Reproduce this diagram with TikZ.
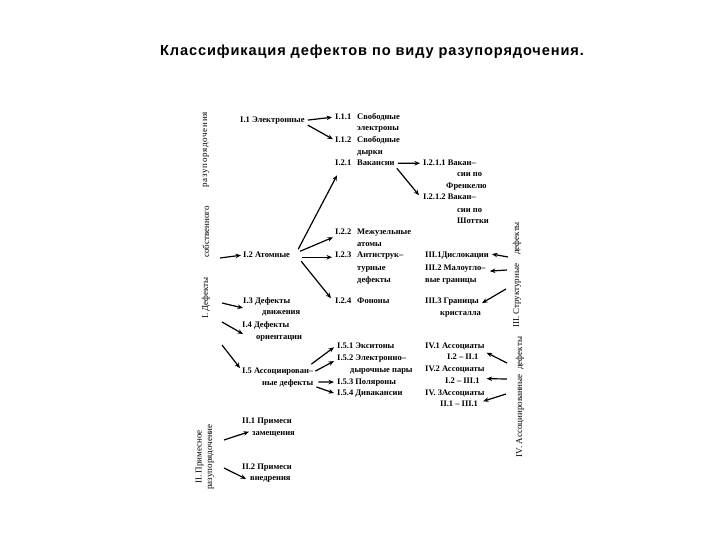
\documentclass[tikz,border=0pt]{standalone}
\usepackage{fontspec}
\setmainfont{Liberation Serif}
\newfontfamily\titlefont[LetterSpace=6]{Liberation Sans}
\usetikzlibrary{arrows.meta,calc}
\begin{document}
\begin{tikzpicture}[x=1pt,y=-1pt,
 lbl/.style={anchor=base west,inner sep=0pt,font=\fontsize{8.5}{10}\selectfont\bfseries},
 vlbl/.style={rotate=90,inner sep=0pt,font=\fontsize{9}{10.5}\selectfont,align=center},
 arr/.style={-{Stealth[length=5.5pt,width=4.5pt]},line width=1.2pt}]
\useasboundingbox[fill=white] (0,0) rectangle (720,540);
\node[font={\titlefont\bfseries\fontsize{14.6}{16}\selectfont}] (title) at (372,52) {Классификация дефектов по виду разупорядочения.};
% I
\node[lbl] (i1) at (240,123) {I.1 Электронные};
\node[lbl] (n111) at (335,120) {I.1.1};
\node[lbl] (t111a) at (357,120) {Свободные};
\node[lbl] (t111b) at (357,131) {электроны};
\node[lbl] (n112) at (335,143) {I.1.2};
\node[lbl] (t112a) at (357,143) {Свободные};
\node[lbl] (t112b) at (357,155) {дырки};
\node[lbl] (n121) at (335,166) {I.2.1};
\node[lbl] (t121) at (357,166) {Вакансии};
\node[lbl] (v1a) at (423,166) {I.2.1.1 Вакан–};
\node[lbl] (v1b) at (457,177) {сии по};
\node[lbl] (v1c) at (446,189) {Френкелю};
\node[lbl] (v2a) at (423,200) {I.2.1.2 Вакан–};
\node[lbl] (v2b) at (457,212) {сии по};
\node[lbl] (v2c) at (457,223) {Шоттки};
\node[lbl] (n122) at (335,235) {I.2.2};
\node[lbl] (t122a) at (357,235) {Межузельные};
\node[lbl] (t122b) at (357,246) {атомы};
\node[lbl] (n123) at (335,258) {I.2.3};
\node[lbl] (t123a) at (357,258) {Антиструк–};
\node[lbl] (t123b) at (357,270) {турные};
\node[lbl] (t123c) at (357,282) {дефекты};
\node[lbl] (n124) at (335,303) {I.2.4};
\node[lbl] (t124) at (357,303) {Фононы};
\node[lbl] (i2) at (243,258) {I.2 Атомные};
\node[lbl] (i3a) at (243,303) {I.3 Дефекты};
\node[lbl] (i3b) at (262,314) {движения};
\node[lbl] (i4a) at (242,327) {I.4 Дефекты};
\node[lbl] (i4b) at (256,339) {ориентации};
\node[lbl] (i5a) at (242,373) {I.5 Ассоциирован–};
\node[lbl] (i5b) at (262,385) {ные дефекты};
\node[lbl] (n151) at (337,348) {I.5.1 Экситоны};
\node[lbl] (n152) at (337,360) {I.5.2 Электронно–};
\node[lbl] (t152b) at (350,372) {дырочные пары};
\node[lbl] (n153) at (337,384) {I.5.3 Поляроны};
\node[lbl] (n154) at (337,395) {I.5.4 Дивакансии};
% II
\node[lbl] (ii1a) at (242,423) {II.1 Примеси};
\node[lbl] (ii1b) at (252,435) {замещения};
\node[lbl] (ii2a) at (242,469) {II.2 Примеси};
\node[lbl] (ii2b) at (250,480) {внедрения};
% III
\node[lbl] (iii1) at (425,258) {III.1Дислокации};
\node[lbl] (iii2a) at (425,270) {III.2 Малоугло–};
\node[lbl] (iii2b) at (425,282) {вые границы};
\node[lbl] (iii3a) at (425,303) {III.3 Границы};
\node[lbl] (iii3b) at (440,315) {кристалла};
% IV
\node[lbl] (iv1a) at (425,348) {IV.1 Ассоциаты};
\node[lbl] (iv1b) at (447,359) {I.2 – II.1};
\node[lbl] (iv2a) at (425,371) {IV.2 Ассоциаты};
\node[lbl] (iv2b) at (445,383) {I.2 – III.1};
\node[lbl] (iv3a) at (425,395) {IV. 3Ассоциаты};
\node[lbl] (iv3b) at (440,406) {II.1 – III.1};
% vertical labels
\node[vlbl] (vI1) at (206,298) {I. Дефекты};
\node[vlbl] (vI2) at (206,232) {собственного};
\node[vlbl] (vI3) at (206,150) {\addfontfeature{LetterSpace=8}разупорядочения};
\node[vlbl] (vII) at (205,457) {II. Примесное\\разупорядочение};
\node[vlbl] (vIII) at (517,275) {III. Структурные\quad дефекты};
\node[vlbl] (vIV) at (520,397) {IV. Ассоциированные\ \ дефекты};
% free ends
\coordinate (c2) at (220,258);
\coordinate (c3) at (222,303);
\coordinate (c4) at (222,322);
\coordinate (c5) at (222,345);
\coordinate (c6) at (224,440);
\coordinate (c7) at (224,468);
\coordinate (c8) at (508,257);
\coordinate (c9) at (507,270);
\coordinate (c10) at (506,289);
\coordinate (c11) at (507,363);
\coordinate (c12) at (507,379);
\coordinate (c13) at (506,394);
% arrows
\draw[arr] ($(i1.east)+(3,-1)$) -- ($(n111.west)+(-3,0)$);
\draw[arr] ($(i1.east)+(3,4)$) -- ($(n112.west)+(-2,-1)$);
\draw[arr] ($(i2.east)+(8,-6)$) -- ($(n121.south west)+(2,9)$);
\draw[arr] ($(i2.east)+(10,-4)$) -- ($(n122.south west)+(-2,2)$);
\draw[arr] ($(i2.east)+(12,2)$) -- ($(n123.west)+(-3,2)$);
\draw[arr] ($(i2.east)+(11,6)$) -- ($(n124.west)+(-4,-2)$);
\draw[arr] (c2) -- ($(i2.west)+(-2,0)$);
\draw[arr] (c3) -- ($(i3a.south west)+(0,3)$);
\draw[arr] (c4) -- ($(i4a.south west)+(1,5)$);
\draw[arr] (c5) -- ($(i5a.west)+(-2,-3)$);
\draw[arr] ($(i5a.east)+(-2,-7)$) -- ($(n151.west)+(-3,2)$);
\draw[arr] ($(i5a.east)+(2,0)$) -- ($(n152.west)+(-3,3)$);
\draw[arr] ($(i5b.east)+(5,-1)$) -- ($(n153.west)+(-3,0)$);
\draw[arr] ($(i5b.east)+(3,4)$) -- ($(n154.west)+(-3,0)$);
\draw[arr] ($(t121.east)+(3,0)$) -- ($(v1a.west)+(-3,0)$);
\draw[arr] ($(t121.east)+(2,5)$) -- ($(v2a.west)+(-4,-2)$);
\draw[arr] (c6) -- ($(ii1b.west)+(-3,-2)$);
\draw[arr] (c7) -- ($(ii2b.west)+(-4,0)$);
\draw[arr] (c8) -- ($(iii1.east)+(3,-2)$);
\draw[arr] (c9) -- ($(iii2a.east)+(4,3)$);
\draw[arr] (c10) -- ($(iii3a.east)+(3,2)$);
\draw[arr] (c11) -- ($(iv1a.south east)+(2,3)$);
\draw[arr] (c12) -- ($(iv2a.south east)+(2,6)$);
\draw[arr] (c13) -- ($(iv3b.east)+(5,-2)$);
\end{tikzpicture}
\end{document}
